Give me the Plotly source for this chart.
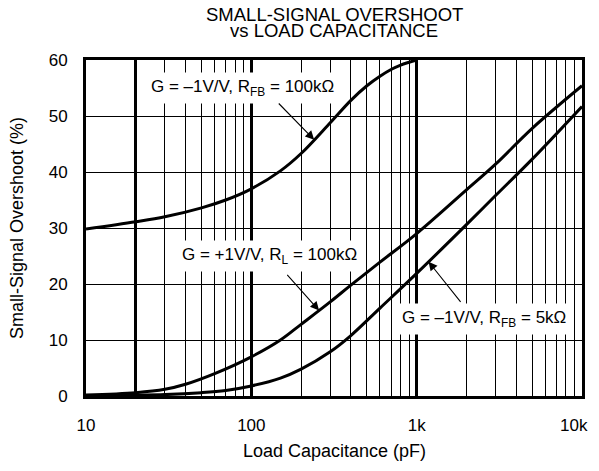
import numpy as np
import plotly.graph_objects as go

# ---- data ----
cap_a = [10, 20, 30, 50, 70, 100, 150, 200, 300, 400, 500, 600, 700, 800, 900, 1000]
os_a = [29.8, 31.1, 32.0, 33.6, 35.0, 37.0, 40.2, 43.3, 48.8, 52.8, 55.4, 57.1, 58.3, 59.1, 59.6, 60.0]

cap_b = [10, 20, 30, 40, 60, 100, 150, 200, 300, 400, 600, 1000, 2000, 3000, 5000, 10000]
os_b = [0.2, 0.6, 1.2, 2.1, 4.0, 7.0, 10.0, 12.8, 16.8, 19.8, 23.9, 29.0, 36.8, 41.4, 47.8, 55.4]

cap_c = [10, 20, 30, 50, 70, 100, 150, 200, 300, 400, 600, 1000, 2000, 3000, 5000, 10000]
os_c = [0.05, 0.15, 0.25, 0.6, 1.0, 1.8, 3.2, 4.8, 7.9, 10.8, 15.7, 21.9, 30.6, 35.8, 42.3, 51.7]

x_tickvals = [10, 20, 100, 1000, 10000]
x_ticktext = ["10", "", "100", "1k", ""]
x_last_label = "10k"
x_minor = [30, 40, 50, 60, 70, 80, 90, 200, 300, 400, 500, 600, 700, 800, 900,
           2000, 3000, 4000, 5000, 6000, 7000, 8000, 9000]
y_tickvals = [0, 10, 20, 30, 40, 50, 60]

label_a = "G = \u20131V/V, R<sub>FB</sub> = 100k\u03a9"
label_b = "G = +1V/V, R<sub>L</sub> = 100k\u03a9"
label_c = "G = \u20131V/V, R<sub>FB</sub> = 5k\u03a9"
title_1 = "SMALL-SIGNAL OVERSHOOT"
title_2 = "vs LOAD CAPACITANCE"
x_title = "Load Capacitance (pF)"
y_title = "Small-Signal Overshoot (%)"

FONT = "Liberation Sans, Arial, sans-serif"
PAGE_OFFSET = 8            # default body margin of the html page
W, H = 599 - PAGE_OFFSET, 471 - 2 * PAGE_OFFSET
ML, MR, MT = 86 - PAGE_OFFSET, 17, 60 - PAGE_OFFSET
MB = H - (396 - PAGE_OFFSET)
PH = H - MT - MB
PW = W - ML - MR

def py(pix):  # page pixel row -> paper y
    return (H - MB - (pix - PAGE_OFFSET)) / PH

def px(pix):  # page pixel column -> paper x
    return ((pix - PAGE_OFFSET) - ML) / PW

fig = go.Figure()
for cx, cy in [(cap_a, os_a), (cap_b, os_b), (cap_c, os_c)]:
    fig.add_trace(go.Scatter(x=cx, y=cy, mode="lines",
                             line=dict(color="black", width=3, shape="spline", smoothing=1.0),
                             showlegend=False, hoverinfo="skip"))

def on_curve(cx, cy, x):
    return float(np.interp(np.log10(x), np.log10(cx), cy))

# labels (text) : position in (log10 x, y)
labels = [
    (label_a, 1.949, 55.0),
    (label_b, 2.108, 25.0),
    (label_c, 3.407, 13.7),
]
for txt, lx, ly in labels:
    fig.add_annotation(x=lx, y=ly, xref="x", yref="y", text=txt, showarrow=False,
                       bgcolor="white", borderpad=4,
                       font=dict(family=FONT, size=17, color="black"))

# arrows: tail (log10 x, y) -> tip on curve at capacitance
arrows = [
    (cap_a, os_a, 240, 2.157, 52.5),
    (cap_b, os_b, 257, 2.209, 21.9),
    (cap_c, os_c, 1180, 3.273, 16.55),
]
for cx, cy, tipx, tx, ty in arrows:
    fig.add_annotation(x=np.log10(tipx), y=on_curve(cx, cy, tipx), xref="x", yref="y",
                       ax=tx, ay=ty, axref="x", ayref="y", text="",
                       showarrow=True, arrowhead=2, arrowsize=1.6, arrowwidth=1.1,
                       arrowcolor="black", standoff=0)

# last x tick label, kept inside the visible page
fig.add_annotation(x=px(590), y=py(425), xref="paper", yref="paper", text=x_last_label,
                   showarrow=False, xanchor="right", yanchor="middle",
                   font=dict(family=FONT, size=17, color="black"))

# titles
fig.add_annotation(x=0.5, y=py(14.5), xref="paper", yref="paper", text=title_1,
                   showarrow=False, yanchor="middle",
                   font=dict(family=FONT, size=18.5, color="black"))
fig.add_annotation(x=0.5, y=py(30.5), xref="paper", yref="paper", text=title_2,
                   showarrow=False, yanchor="middle",
                   font=dict(family=FONT, size=18.5, color="black"))
fig.add_annotation(x=0.5, y=py(451), xref="paper", yref="paper", text=x_title,
                   showarrow=False, yanchor="middle",
                   font=dict(family=FONT, size=18, color="black"))
fig.add_annotation(x=px(17), y=0.5, xref="paper", yref="paper", text=y_title,
                   showarrow=False, textangle=-90, xanchor="center", yanchor="middle",
                   font=dict(family=FONT, size=18, color="black"))

fig.update_xaxes(type="log", range=[1, 4], tickvals=x_tickvals, ticktext=x_ticktext,
                 showgrid=True, gridcolor="black", gridwidth=2.5,
                 minor=dict(tickvals=x_minor, showgrid=True, gridcolor="black", gridwidth=1, ticks=""),
                 ticks="", ticklabelstandoff=12, automargin=False,
                 showline=True, linecolor="black", linewidth=3, mirror=True,
                 tickfont=dict(family=FONT, size=17, color="black"),
                 zeroline=False)
fig.update_yaxes(range=[0, 60], tickvals=y_tickvals,
                 showgrid=True, gridcolor="black", gridwidth=1,
                 ticks="", ticklabelstandoff=12, automargin=False,
                 showline=True, linecolor="black", linewidth=3, mirror=True,
                 tickfont=dict(family=FONT, size=17, color="black"),
                 zeroline=False)

fig.update_layout(width=W, height=H, margin=dict(l=ML, r=MR, t=MT, b=MB, autoexpand=False),
                  plot_bgcolor="white", paper_bgcolor="white",
                  font=dict(family=FONT, color="black"))

fig.write_html("out.html")
